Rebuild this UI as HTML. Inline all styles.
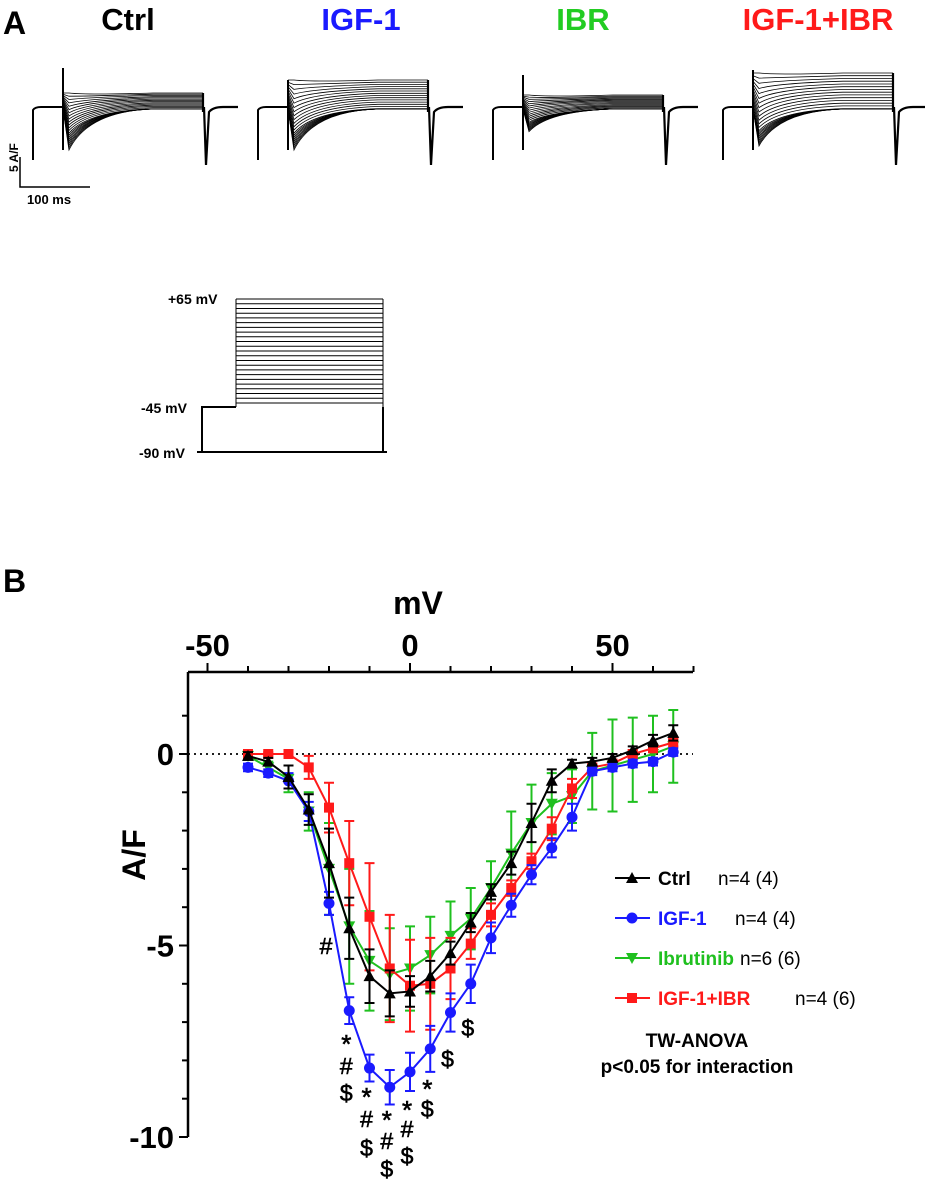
<!DOCTYPE html>
<html><head><meta charset="utf-8">
<style>
html,body{margin:0;padding:0;background:#fff;}
body{width:925px;height:1185px;overflow:hidden;font-family:"Liberation Sans",Arial,sans-serif;}
svg{display:block;}
text{font-family:"Liberation Sans",Arial,sans-serif;font-weight:bold;}
</style></head>
<body>
<svg id="fig" width="925" height="1185" viewBox="0 0 925 1185">
  <text x="3" y="34" font-size="32">A</text>
  <text x="128" y="30" font-size="31" text-anchor="middle" fill="#000">Ctrl</text>
  <text x="361" y="30" font-size="31" text-anchor="middle" fill="#1a1aff">IGF-1</text>
  <text x="583" y="30" font-size="31" text-anchor="middle" fill="#22cc22">IBR</text>
  <text x="818" y="30" font-size="31" text-anchor="middle" fill="#ff1a1a">IGF-1+IBR</text>
  <g id="traces"></g>
  <g>
    <path d="M20,157 V187 H90" fill="none" stroke="#000" stroke-width="1.5"/>
    <text x="14" y="176" font-size="12" transform="rotate(-90 14 172)">5 A/F</text>
    <text x="27" y="204" font-size="13">100 ms</text>
  </g>
  <g id="protocol">
    <path d="M197,452 H202 V407 H236" fill="none" stroke="#000" stroke-width="2"/>
    <path d="M383,407 V452 H387 M202,452 H387" fill="none" stroke="#000" stroke-width="2"/>
    <text x="168" y="304" font-size="14">+65 mV</text>
    <text x="141" y="413" font-size="14">-45 mV</text>
    <text x="139" y="458" font-size="14">-90 mV</text>
  </g>
  <text x="3" y="592" font-size="32">B</text>
  <text x="418" y="614" font-size="32" text-anchor="middle">mV</text>
  <text x="145" y="855" font-size="32" text-anchor="middle" transform="rotate(-90 145 855)">A/F</text>
  <g id="chart"></g>
  <text x="697" y="1047" font-size="19" text-anchor="middle">TW-ANOVA</text>
  <text x="697" y="1073" font-size="19" text-anchor="middle">p&lt;0.05 for interaction</text>
</svg>
<script>
// ---- chart data ----
var voltages = [-40,-35,-30,-25,-20,-15,-10,-5,0,5,10,15,20,25,30,35,40,45,50,55,60,65];
var ctrlVals = [-0.05,-0.2,-0.6,-1.45,-2.85,-4.55,-5.8,-6.25,-6.2,-5.8,-5.2,-4.4,-3.6,-2.85,-1.8,-0.7,-0.25,-0.2,-0.1,0.1,0.35,0.55];
var ctrlErr = [0.1,0.1,0.3,0.4,0.9,0.8,0.7,0.6,0.4,0.4,0.3,0.25,0.2,0.3,0.5,0.3,0.1,0.1,0.1,0.1,0.15,0.2];
var igfVals = [-0.35,-0.5,-0.7,-1.5,-3.9,-6.7,-8.2,-8.7,-8.3,-7.7,-6.75,-6.0,-4.8,-3.95,-3.15,-2.45,-1.65,-0.45,-0.35,-0.25,-0.2,0.05];
var igfErr = [0.1,0.1,0.2,0.25,0.3,0.35,0.35,0.45,0.5,0.6,0.5,0.5,0.4,0.3,0.25,0.25,0.35,0.1,0.1,0.1,0.1,0.1];
var ibrVals = [-0.05,-0.35,-0.65,-1.5,-3.0,-4.5,-5.4,-5.75,-5.6,-5.25,-4.75,-4.3,-3.5,-2.6,-1.8,-1.3,-1.1,-0.45,-0.3,-0.15,0.0,0.2];
var ibrErr = [0.1,0.15,0.35,0.5,1.2,1.5,1.3,1.2,1.1,1.0,0.9,0.8,0.7,1.1,1.0,0.8,0.7,1.0,1.2,1.1,1.0,0.95];
var comboVals = [0,0,0,-0.35,-1.4,-2.85,-4.25,-5.6,-6.05,-6.0,-5.6,-4.95,-4.2,-3.5,-2.8,-1.95,-0.9,-0.35,-0.25,0.0,0.15,0.3];
var comboErr = [0.05,0.05,0.05,0.3,0.65,1.1,1.4,1.4,1.2,1.2,0.8,0.4,0.3,0.2,0.2,0.3,0.25,0.1,0.1,0.1,0.1,0.1];
var xTickLabels = [-50,0,50];
var yTickLabels = [0,-5,-10];
var legendNames = ["Ctrl","IGF-1","Ibrutinib","IGF-1+IBR"];
var legendNs = ["n=4 (4)","n=4 (4)","n=6 (6)","n=4 (6)"];

var NS='http://www.w3.org/2000/svg';
function mk(tag, attrs, parent){var e=document.createElementNS(NS,tag);for(var k in attrs)e.setAttribute(k,attrs[k]);parent.appendChild(e);return e;}
function xs(v){return 410+v*4.05;}
function ys(v){return 754-v*38.3;}

var chart=document.getElementById('chart');
var ax=mk('path',{d:'M188,672 H693 M188,672 V1137',stroke:'#000','stroke-width':2.5,fill:'none'},chart);


for(var t=-50;t<=70;t+=10){ if(xs(t)>695) break; mk('line',{x1:xs(t),x2:xs(t),y1:672,y2:t%50===0?663:666,stroke:'#000','stroke-width':2},chart);}
for(var t=1;t>=-10;t--){ mk('line',{x1:188,x2:t%5===0?179:182,y1:ys(t),y2:ys(t),stroke:'#000','stroke-width':2},chart);}
xTickLabels.forEach(function(v){
  var e=mk('text',{x:xs(v),y:656,'font-size':31,'text-anchor':'middle'},chart);e.textContent=v;
  
  
});
yTickLabels.forEach(function(v){
  var e=mk('text',{x:174,y:ys(v)+11,'font-size':31,'text-anchor':'end'},chart);e.textContent=v;
  
  
});
var zl=mk('line',{x1:188,x2:693,y1:ys(0),y2:ys(0),stroke:'#000','stroke-width':1.8,'stroke-dasharray':'2 4'},chart);



function marker(kind,x,y,col,parent){
  if(kind==='tri') return mk('path',{d:'M'+x+','+(y-6)+' L'+(x+6)+','+(y+5)+' L'+(x-6)+','+(y+5)+'Z',fill:col},parent);
  if(kind==='circ') return mk('circle',{cx:x,cy:y,r:5.5,fill:col},parent);
  if(kind==='itri') return mk('path',{d:'M'+x+','+(y+6)+' L'+(x+6)+','+(y-5)+' L'+(x-6)+','+(y-5)+'Z',fill:col},parent);
  return mk('rect',{x:x-5,y:y-5,width:10,height:10,fill:col},parent);
}
var series=[
  {name:'ibrutinib',vals:ibrVals,err:ibrErr,col:'#1fc01f',m:'itri'},
  {name:'igf1-ibr',vals:comboVals,err:comboErr,col:'#ff1a1a',m:'sq'},
  {name:'igf1',vals:igfVals,err:igfErr,col:'#1a1aff',m:'circ'},
  {name:'ctrl',vals:ctrlVals,err:ctrlErr,col:'#000',m:'tri'}
];
series.forEach(function(s){
  var g=mk('g',{},chart);
  
  
  var d='';
  voltages.forEach(function(v,i){
    var x=xs(v),y=ys(s.vals[i]),e=s.err[i]*38.3;
    var eb=mk('path',{d:'M'+x+','+(y-e)+' V'+(y+e)+' M'+(x-5)+','+(y-e)+' H'+(x+5)+' M'+(x-5)+','+(y+e)+' H'+(x+5),stroke:s.col,'stroke-width':2,fill:'none'},g);
    
    
    d+=(i?'L':'M')+x+','+y;
  });
  mk('path',{d:d,stroke:s.col,'stroke-width':2,fill:'none'},g);
  voltages.forEach(function(v,i){
    var p=marker(s.m,xs(v),ys(s.vals[i]),s.col,g);
    
    
  });
});
var ann=[[-20,945,'#'],[-15,1037,'*'],[-15,1065,'#'],[-15,1092,'$'],[-10,1090,'*'],[-10,1118,'#'],[-10,1147,'$'],
 [-5,1113,'*'],[-5,1140,'#'],[-5,1168,'$'],[0,1103,'*'],[0,1128,'#'],[0,1155,'$'],[5,1082,'*'],[5,1108,'$'],[10,1058,'$'],[15,1027,'$']];
ann.forEach(function(a){
  var e=mk('text',{x:xs(a[0])-3,y:a[1]+(a[2]==='*'?16:9),'font-size':a[2]==='*'?26:23,'text-anchor':'middle',stroke:'#000','stroke-width':0.6},chart);
  e.style.fontWeight='normal';
  e.textContent=a[2];
  
  
});
var lcols=['#000','#1a1aff','#1fc01f','#ff1a1a'],lm=['tri','circ','itri','sq'],nx=[718,735,740,795];
legendNames.forEach(function(n,i){
  var y=878+i*40;
  var g=mk('g',{},chart);
  
  
  mk('line',{x1:615,x2:650,y1:y,y2:y,stroke:lcols[i],'stroke-width':2},g);
  marker(lm[i],632,y,lcols[i],g);
  var t=mk('text',{x:658,y:y+7,'font-size':19,fill:lcols[i]},g);t.textContent=n;
  var t2=mk('text',{x:nx[i],y:y+7,'font-size':19,fill:'#000'},g);t2.style.fontWeight='normal';t2.textContent=legendNs[i];
});
var prot=document.getElementById('protocol');
var pd='';
for(var k=0;k<=22;k++){var y=403-k*104/22;pd+='M236,'+y.toFixed(1)+' H383 ';}
pd+='M236,407 V299 M383,299 V407';
mk('path',{d:pd,stroke:'#000','stroke-width':1,fill:'none'},prot);
// current traces (decorative)
var tr=document.getElementById('traces');
var panels=[{x0:33,top:93,spike:68,amp:1.0},{x0:258,top:80,spike:80,amp:1.0},{x0:493,top:95,spike:75,amp:0.55},{x0:723,top:73,spike:70,amp:0.9}];
panels.forEach(function(p){
  var g=mk('g',{},tr);
  
  
  var b=107,s0=p.x0+30,s1=p.x0+170;
  for(var k=0;k<22;k++){
    var f=k/21;
    var ss=p.top+(b+2-p.top)*Math.min(1,f*1.6);
    var pk=ss+(150-ss)*p.amp*Math.pow(f,1.1);
    var d='M'+s0+','+ss.toFixed(1)+' L'+(s0+6)+','+pk.toFixed(1)+' Q'+(s0+25)+','+(ss+2).toFixed(1)+' '+(s0+90)+','+ss.toFixed(1)+' H'+s1;
    mk('path',{d:d,stroke:'#000','stroke-width':0.8,fill:'none'},g);
  }
  mk('path',{d:'M'+p.x0+',160 V110 Q'+(p.x0+2)+','+b+' '+(p.x0+8)+','+b+' H'+s0+' V'+p.spike+' M'+s0+','+p.top+' V150',stroke:'#000','stroke-width':2,fill:'none'},g);
  mk('path',{d:'M'+s1+','+(p.top)+' V'+(b+5)+' M'+(s1+1)+','+(b)+' L'+(s1+3)+',165 L'+(s1+6)+','+(b+5)+' Q'+(s1+10)+','+(b)+' '+(s1+20)+','+b+' H'+(p.x0+205),stroke:'#000','stroke-width':2.2,fill:'none'},g);
});
</script>
</body></html>
